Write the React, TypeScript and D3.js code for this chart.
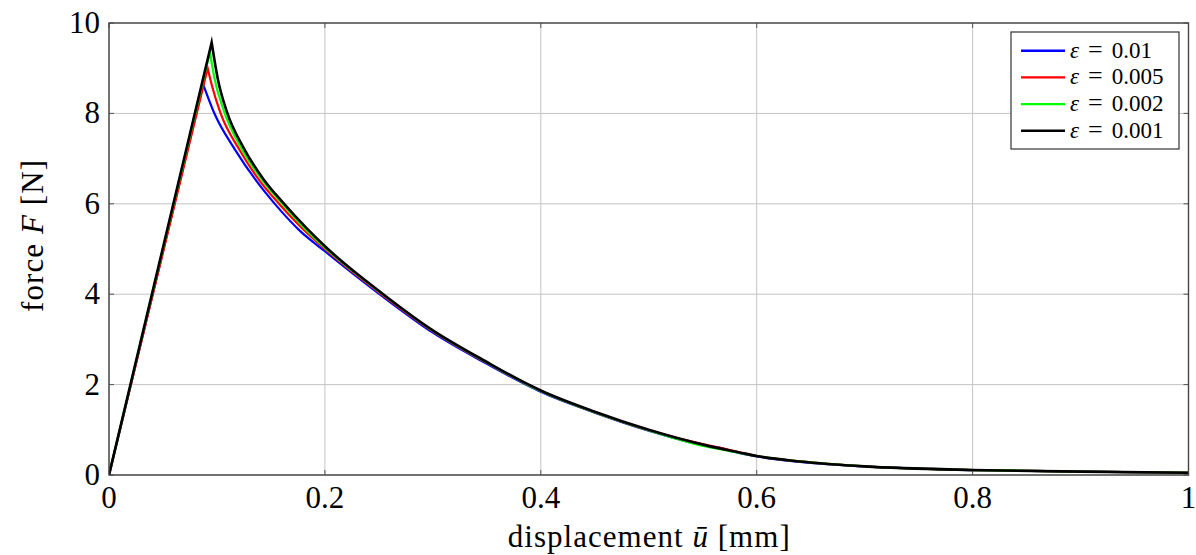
import React from "react";
import * as d3 from "d3";

// Force–displacement response for several regularisation lengths ε
const epsLabels = ["0.01", "0.005", "0.002", "0.001"];
const seriesColors = ["#0000ff", "#ff0000", "#00ff00", "#000000"];

// each series: origin, peak, then the softening branch
const curveEps010: [number, number][] = [
  [0, 0], [0.0873, 8.64], [0.098, 7.98], [0.1167, 7.2],
  [0.1367, 6.5], [0.1546, 5.97], [0.1769, 5.4], [0.2, 4.95], [0.254, 3.94],
  [0.3, 3.15], [0.35, 2.46], [0.387, 1.99], [0.4, 1.84], [0.45, 1.38],
  [0.5, 0.98], [0.55, 0.66], [0.566, 0.6], [0.575, 0.54],
  [0.6, 0.41], [0.64, 0.29], [0.7, 0.19], [0.8, 0.11],
  [0.9, 0.075], [1.0, 0.05],
];
const curveEps005: [number, number][] = [
  [0, 0], [0.0914, 9.0], [0.0955, 8.6], [0.1034, 8.0], [0.1207, 7.2],
  [0.1398, 6.5], [0.1583, 5.98], [0.1806, 5.42], [0.2, 5.0], [0.254, 3.97],
  [0.3, 3.18], [0.35, 2.48], [0.387, 2.01], [0.4, 1.86], [0.45, 1.39],
  [0.5, 0.99], [0.553, 0.665], [0.566, 0.6],
  [0.6, 0.42], [0.64, 0.3], [0.7, 0.19], [0.8, 0.11],
  [0.9, 0.075], [1.0, 0.05],
];
const curveEps002: [number, number][] = [
  [0, 0], [0.0935, 9.36], [0.0975, 8.8], [0.1065, 8.05], [0.1228, 7.22],
  [0.1418, 6.53], [0.1605, 6.0], [0.182, 5.44], [0.2, 5.03], [0.254, 3.99],
  [0.3, 3.19], [0.35, 2.49], [0.387, 2.01], [0.4, 1.86], [0.45, 1.39],
  [0.5, 0.99], [0.553, 0.63], [0.575, 0.53],
  [0.6, 0.42], [0.64, 0.3], [0.7, 0.19], [0.8, 0.11],
  [0.9, 0.075], [1.0, 0.05],
];
const curveEps001: [number, number][] = [
  [0, 0], [0.0951, 9.57], [0.101, 8.74], [0.109, 8.05], [0.1244, 7.25],
  [0.1429, 6.55], [0.1614, 6.02], [0.183, 5.46], [0.2, 5.06], [0.254, 4.0],
  [0.3, 3.2], [0.35, 2.5], [0.387, 2.02], [0.4, 1.87], [0.45, 1.4],
  [0.5, 1.0], [0.554, 0.65], [0.584, 0.5],
  [0.6, 0.42], [0.64, 0.3], [0.7, 0.19], [0.8, 0.11],
  [0.9, 0.075], [1.0, 0.05],
];
const seriesData = [curveEps010, curveEps005, curveEps002, curveEps001];

const xTicks = [0, 0.2, 0.4, 0.6, 0.8, 1];
const yTicks = [0, 2, 4, 6, 8, 10];

const W = 1196;
const H = 555;
const plot = { left: 109, right: 1188.5, top: 23, bottom: 475 };
const FONT = "'Liberation Serif', 'DejaVu Serif', serif";

export default function App() {
  const x = d3.scaleLinear().domain([0, 1]).range([plot.left, plot.right]);
  const y = d3.scaleLinear().domain([0, 10]).range([plot.bottom, plot.top]);
  const loading = d3
    .line<[number, number]>()
    .x((d) => x(d[0]))
    .y((d) => y(d[1]));
  const softening = d3
    .line<[number, number]>()
    .x((d) => x(d[0]))
    .y((d) => y(d[1]))
    .curve(d3.curveMonotoneX);

  // linear elastic branch up to the peak, smooth decay after it
  const pathFor = (d: [number, number][]) => {
    const up = loading(d.slice(0, 2)) ?? "";
    const down = (softening(d.slice(1)) ?? "").replace(/^M/, "L");
    return up + down;
  };

  const tickLen = 5;
  const legend = { x: 1011, y: 32, w: 168, h: 117, row: 26.7 };

  return (
    <svg
      width={W}
      height={H}
      style={{ position: "absolute", left: 0, top: 0, background: "#fff" }}
      fontFamily={FONT}
    >
      <defs>
        <clipPath id="plotClip">
          <rect x={plot.left} y={plot.top - 3} width={plot.right - plot.left} height={plot.bottom - plot.top + 3} />
        </clipPath>
      </defs>

      {/* grid */}
      <g stroke="#c4c4c4" strokeWidth={1}>
        {xTicks.map((t) => (
          <line key={"gx" + t} x1={x(t)} x2={x(t)} y1={plot.top} y2={plot.bottom} />
        ))}
        {yTicks.map((t) => (
          <line key={"gy" + t} x1={plot.left} x2={plot.right} y1={y(t)} y2={y(t)} />
        ))}
      </g>

      {/* tick marks, inward on all sides */}
      <g stroke="#555" strokeWidth={1}>
        {xTicks.map((t) => (
          <g key={"tx" + t}>
            <line x1={x(t)} x2={x(t)} y1={plot.bottom} y2={plot.bottom - tickLen} />
            <line x1={x(t)} x2={x(t)} y1={plot.top} y2={plot.top + tickLen} />
          </g>
        ))}
        {yTicks.map((t) => (
          <g key={"ty" + t}>
            <line x1={plot.left} x2={plot.left + tickLen} y1={y(t)} y2={y(t)} />
            <line x1={plot.right} x2={plot.right - tickLen} y1={y(t)} y2={y(t)} />
          </g>
        ))}
      </g>

      {/* curves */}
      <g clipPath="url(#plotClip)" fill="none" strokeLinejoin="miter" strokeMiterlimit={20}>
        {seriesData.map((d, i) => (
          <path key={i} d={pathFor(d)} stroke={seriesColors[i]} strokeWidth={i === 3 ? 2.6 : 2.2} />
        ))}
      </g>

      {/* frame */}
      <rect
        x={plot.left}
        y={plot.top}
        width={plot.right - plot.left}
        height={plot.bottom - plot.top}
        fill="none"
        stroke="#444"
        strokeWidth={1.4}
      />

      {/* tick labels */}
      <g fontSize={31} fill="#000">
        {xTicks.map((t) => (
          <text key={"lx" + t} x={x(t)} y={plot.bottom + 33} textAnchor="middle">
            {d3.format("~g")(t)}
          </text>
        ))}
        {yTicks.map((t) => (
          <text key={"ly" + t} x={plot.left - 9} y={y(t) + 10} textAnchor="end">
            {t}
          </text>
        ))}
      </g>

      {/* axis labels */}
      <text
        x={(plot.left + plot.right) / 2}
        y={547}
        fontSize={31}
        textAnchor="middle"
        textLength={282}
        lengthAdjust="spacing"
      >
        displacement <tspan fontStyle="italic">{"u\u0304"}</tspan> [mm]
      </text>
      <text
        transform={`translate(43, 236) rotate(-90)`}
        fontSize={31}
        textAnchor="middle"
        textLength={152}
        lengthAdjust="spacing"
      >
        force <tspan fontStyle="italic">F</tspan> [N]
      </text>

      {/* legend */}
      <g>
        <rect x={legend.x} y={legend.y} width={legend.w} height={legend.h} fill="#fff" stroke="#333" strokeWidth={1.2} />
        {epsLabels.map((lab, i) => {
          const ly = legend.y + 18.7 + i * legend.row;
          return (
            <g key={lab}>
              <line x1={legend.x + 10} x2={legend.x + 54} y1={ly} y2={ly} stroke={seriesColors[i]} strokeWidth={2.4} />
              <text x={legend.x + 59} y={ly + 7} fontSize={23}>
                <tspan fontStyle="italic">ε</tspan>
                <tspan dx={9} fontSize={26}>=</tspan>
                <tspan dx={9}>{lab}</tspan>
              </text>
            </g>
          );
        })}
      </g>
    </svg>
  );
}
